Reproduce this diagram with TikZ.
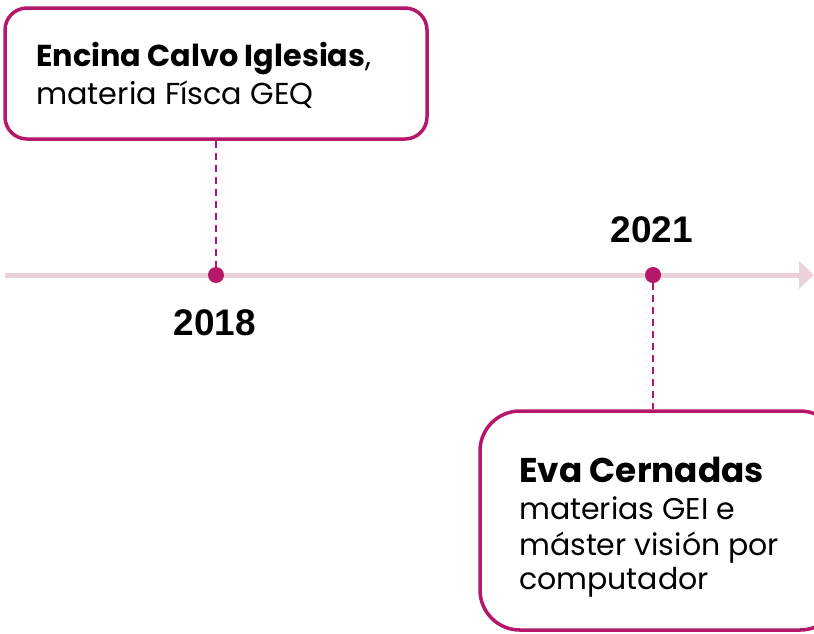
\documentclass[tikz,border=0pt]{standalone}
\usepackage{fontspec}
\setmainfont{Poppins}
\newfontfamily\yearfont{Liberation Sans}
\definecolor{mag}{HTML}{B5176B}
\definecolor{lpink}{HTML}{EBD2DA}
\begin{document}
\begin{tikzpicture}[x=1pt,y=-1pt,
  card/.style={draw=mag, line width=3.5pt, fill=white, rectangle, inner sep=0pt},
  dot/.style={circle, fill=mag, inner sep=0pt, minimum size=16pt},
  link/.style={draw=mag, line width=1.8pt, dash pattern=on 7pt off 5pt},
  year/.style={font=\yearfont\bfseries\fontsize{37}{40}\selectfont, inner sep=0pt, anchor=base},
  txt/.style={inner sep=0pt, anchor=base west, font=\fontsize{30}{34}\selectfont}]
\useasboundingbox (0,0) rectangle (814,633);
\clip (0,0) rectangle (814,633);
% timeline
\coordinate (tl0) at (5,275);
\coordinate (tl1) at (801,275);
\draw[lpink, line width=5pt] (tl0) -- (tl1);
\fill[lpink] (799,261) -- (814,275) -- (799,289) -- cycle;
% cards
\node[card, rounded corners=22pt, minimum width=422pt, minimum height=131pt] (c1) at (216,73.5) {};
\node[card, rounded corners=40pt, minimum width=360pt, minimum height=219pt] (c2) at (660,520.5) {};
% dots
\node[dot] (d1) at (216,275) {};
\node[dot] (d2) at (653,275) {};
% dashed links
\draw[link] (c1.south -| d1) -- (d1);
\draw[link] (d2) -- (d2 |- c2.north);
% years
\node[year] (y1) at (215,335) {2018};
\node[year] (y2) at (652,242) {2021};
% texts
\node[txt, font=\fontsize{30.3}{34}\selectfont] (t1) at (36,66) {\textbf{Encina Calvo Iglesias},};
\node[txt, font=\fontsize{30.3}{34}\selectfont] (t2) at (36,104) {materia Físca GEQ};
\node[txt, font=\bfseries\fontsize{34.3}{38}\selectfont] (t3) at (519,482) {Eva Cernadas};
\node[txt] (t4) at (519,519) {materias GEI e};
\node[txt] (t5) at (519,555) {máster visión por};
\node[txt] (t6) at (519,589) {computador};
\end{tikzpicture}
\end{document}
